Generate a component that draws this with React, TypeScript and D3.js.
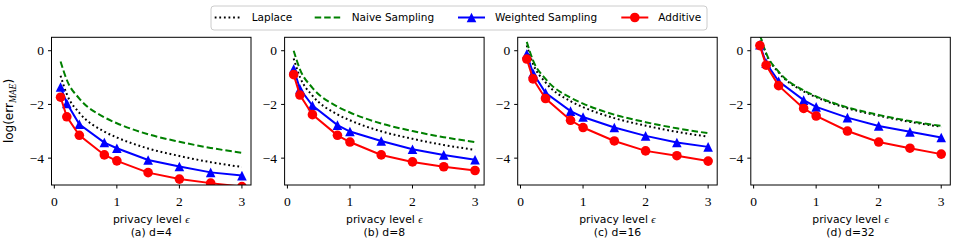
import React from "react";
import * as d3 from "d3";

const eps = [0.1, 0.2, 0.4, 0.8, 1.0, 1.5, 2.0, 2.5, 3.0];
const panelTitles = ["(a) d=4", "(b) d=8", "(c) d=16", "(d) d=32"];
const xTicks = [0, 1, 2, 3];
const yTicks = [0, -2, -4];

const laplace = [
  [-0.93, -1.62, -2.31, -3.01, -3.23, -3.64, -3.92, -4.15, -4.33],
  [-0.29, -0.98, -1.67, -2.37, -2.59, -3.0, -3.28, -3.51, -3.69],
  [0.2, -0.49, -1.18, -1.88, -2.1, -2.51, -2.79, -3.02, -3.2],
  [0.57, -0.12, -0.81, -1.51, -1.73, -2.14, -2.42, -2.65, -2.83],
];
const naive = [
  [-0.4, -1.09, -1.78, -2.48, -2.7, -3.11, -3.39, -3.62, -3.8],
  [0.0, -0.69, -1.38, -2.08, -2.3, -2.71, -2.99, -3.22, -3.4],
  [0.33, -0.36, -1.05, -1.75, -1.97, -2.38, -2.66, -2.89, -3.07],
  [0.6, -0.09, -0.78, -1.48, -1.7, -2.11, -2.39, -2.62, -2.8],
];
const weighted = [
  [-1.35, -1.96, -2.74, -3.42, -3.63, -4.07, -4.31, -4.53, -4.65],
  [-0.68, -1.42, -2.04, -2.77, -3.01, -3.36, -3.67, -3.88, -4.06],
  [-0.12, -0.83, -1.57, -2.25, -2.47, -2.86, -3.17, -3.42, -3.58],
  [0.22, -0.46, -1.14, -1.84, -2.09, -2.49, -2.8, -3.02, -3.23],
];
const additive = [
  [-1.73, -2.46, -3.15, -3.88, -4.1, -4.54, -4.78, -4.93, -5.06],
  [-0.89, -1.65, -2.38, -3.15, -3.4, -3.88, -4.14, -4.32, -4.46],
  [-0.31, -1.05, -1.78, -2.59, -2.86, -3.36, -3.73, -3.91, -4.11],
  [0.19, -0.54, -1.3, -2.15, -2.43, -2.99, -3.4, -3.63, -3.85],
];

const legendLabels = ["Laplace", "Naive Sampling", "Weighted Sampling", "Additive"];

const W = 954;
const H = 244;
const left0 = 51.5;
const step = 233.1;
const pw = 199.5;
const top = 37.3;
const bottom = 185;

const SANS = "DejaVu Sans, sans-serif";
const SERIF = "Liberation Serif, DejaVu Serif, serif";

const RED = "#ff0000";
const BLUE = "#0000ff";
const GREEN = "#008000";

function triPath(r: number) {
  return `M0,${-r}L${-r},${r}L${r},${r}Z`;
}

function Panel({ i }: { i: number }) {
  const x0 = left0 + i * step;
  // matplotlib default margins: 0.05 * (3 - 0.1)
  const x = d3.scaleLinear().domain([0.1 - 0.145, 3 + 0.145]).range([x0, x0 + pw]);
  const y = d3.scaleLinear().domain([-5, 0.5]).range([bottom, top]);
  const lin = d3
    .line<number>()
    .x((_, k) => x(eps[k]))
    .y((v) => y(v));
  const smooth = d3
    .line<number>()
    .x((_, k) => x(eps[k]))
    .y((v) => y(v))
    .curve(d3.curveMonotoneX);
  const clipId = `clip${i}`;
  return (
    <g>
      <defs>
        <clipPath id={clipId}>
          <rect x={x0} y={top} width={pw} height={bottom - top} />
        </clipPath>
      </defs>
      <g clipPath={`url(#${clipId})`}>
        <path d={smooth(laplace[i]) || ""} fill="none" stroke="#000" strokeWidth={2} strokeDasharray="1.8,2.8" />
        <path d={smooth(naive[i]) || ""} fill="none" stroke={GREEN} strokeWidth={2} strokeDasharray="6.5,3" />
        <path d={lin(weighted[i]) || ""} fill="none" stroke={BLUE} strokeWidth={2} />
        {weighted[i].map((v, k) => (
          <path key={k} d={triPath(4.8)} transform={`translate(${x(eps[k])},${y(v)})`} fill={BLUE} />
        ))}
        <path d={lin(additive[i]) || ""} fill="none" stroke={RED} strokeWidth={2} />
        {additive[i].map((v, k) => (
          <circle key={k} cx={x(eps[k])} cy={y(v)} r={4.8} fill={RED} />
        ))}
      </g>
      <rect x={x0} y={top} width={pw} height={bottom - top} fill="none" stroke="#000" strokeWidth={1} />
      {xTicks.map((t) => (
        <g key={t}>
          <line x1={x(t)} x2={x(t)} y1={bottom} y2={bottom + 3.5} stroke="#000" strokeWidth={1} />
          <text x={x(t)} y={205.5} textAnchor="middle" fontFamily={SERIF} fontSize={13.5}>
            {t}
          </text>
        </g>
      ))}
      {yTicks.map((t) => (
        <g key={t}>
          <line x1={x0 - 3.5} x2={x0} y1={y(t)} y2={y(t)} stroke="#000" strokeWidth={1} />
          <text x={x0 - 7.5} y={y(t)} dy="0.34em" textAnchor="end" fontFamily={SERIF} fontSize={13.5}>
            {t === 0 ? "0" : "\u2212" + Math.abs(t)}
          </text>
        </g>
      ))}
      <text x={x0 + pw / 2} y={222.5} textAnchor="middle" fontFamily={SANS} fontSize={10.8}>
        privacy level <tspan fontFamily={SERIF} fontStyle="italic">ϵ</tspan>
      </text>
      <text x={x0 + pw / 2} y={235.5} textAnchor="middle" fontFamily={SANS} fontSize={10.8}>
        {panelTitles[i]}
      </text>
    </g>
  );
}

function Legend() {
  const textX = [251.7, 351.7, 495, 658.3];
  const ly = 17.5;
  return (
    <g>
      <rect x={211} y={6} width={496} height={24} rx={3} fill="#fff" stroke="#cccccc" strokeWidth={1} />
      {legendLabels.map((lab, k) => {
        const hx1 = textX[k] - 37;
        const hx2 = textX[k] - 10;
        const mid = (hx1 + hx2) / 2;
        return (
          <g key={lab}>
            {k === 0 && (
              <line x1={hx1} x2={hx2} y1={ly} y2={ly} stroke="#000" strokeWidth={2} strokeDasharray="1.8,2.8" />
            )}
            {k === 1 && (
              <line x1={hx1} x2={hx2} y1={ly} y2={ly} stroke={GREEN} strokeWidth={2} strokeDasharray="6.5,3" />
            )}
            {k === 2 && (
              <g>
                <line x1={hx1} x2={hx2} y1={ly} y2={ly} stroke={BLUE} strokeWidth={2} />
                <path d={triPath(4.8)} transform={`translate(${mid},${ly})`} fill={BLUE} />
              </g>
            )}
            {k === 3 && (
              <g>
                <line x1={hx1} x2={hx2} y1={ly} y2={ly} stroke={RED} strokeWidth={2} />
                <circle cx={mid} cy={ly} r={4.8} fill={RED} />
              </g>
            )}
            <text x={textX[k]} y={ly} dy="0.35em" fontFamily={SANS} fontSize={10.5}>
              {lab}
            </text>
          </g>
        );
      })}
    </g>
  );
}

export default function App() {
  return (
    <svg width={W} height={H} style={{ position: "absolute", left: 0, top: 0, background: "#fff" }}>
      <rect width={W} height={H} fill="#fff" />
      {[0, 1, 2, 3].map((i) => (
        <Panel key={i} i={i} />
      ))}
      <text
        transform={`translate(13,111) rotate(-90)`}
        textAnchor="middle"
        fontFamily={SANS}
        fontSize={12}
      >
        log(err
        <tspan fontFamily={SERIF} fontStyle="italic" fontSize={9.5} dy={3}>
          MAE
        </tspan>
        <tspan dy={-3}>)</tspan>
      </text>
      <Legend />
    </svg>
  );
}
